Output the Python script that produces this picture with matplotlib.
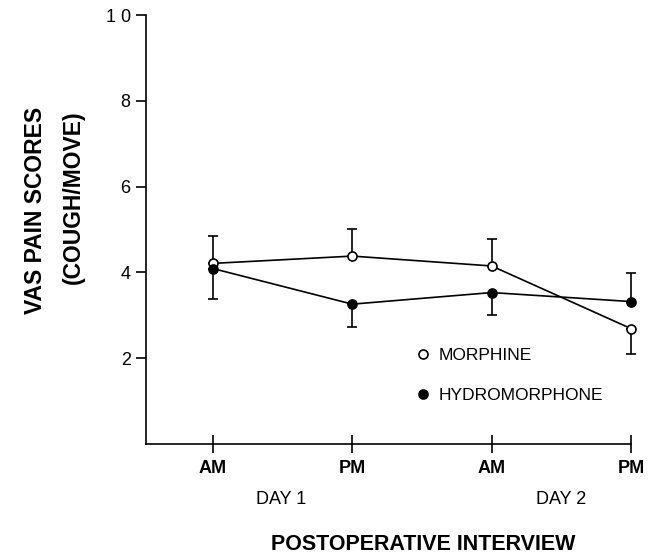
import matplotlib
matplotlib.use('Agg')
import matplotlib.pyplot as plt
from matplotlib.lines import Line2D
import numpy as np

# data
times = ['AM', 'PM', 'AM', 'PM']
days = ['DAY 1', 'DAY 2']
morphine = [4.21, 4.38, 4.15, 2.69]
morphine_err_lo = [0, 0, 0, 0.59]
morphine_err_hi = [0.63, 0.62, 0.63, 0]
hydro = [4.09, 3.26, 3.53, 3.32]
hydro_err_lo = [0.72, 0.53, 0.52, 0]
hydro_err_hi = [0, 0, 0, 0.67]
yticks = [2, 4, 6, 8, 10]

plt.rcParams['font.family'] = ['Liberation Sans', 'DejaVu Sans']

fig = plt.figure(figsize=(6.68, 5.55), dpi=100)
ax = fig.add_axes([146 / 668, 1 - 444 / 555, (631 - 146) / 668, (444 - 15) / 555])

x = np.arange(1, len(times) + 1)

style = dict(color='black', lw=1.2, elinewidth=1.2, capsize=3.5, capthick=1.2,
             marker='o', ms=6.5, mec='black', mew=1.2, zorder=3)
# morphine (open circles)
m = ax.errorbar(x, morphine, yerr=[morphine_err_lo, morphine_err_hi], mfc='white',
                label='MORPHINE', **style)
# hydromorphone (filled circles)
h = ax.errorbar(x, hydro, yerr=[hydro_err_lo, hydro_err_hi], mfc='black',
                label='HYDROMORPHONE', **style)
for cont in (m, h):
    for art in cont.get_children():
        art.set_clip_on(False)

ax.set_xlim(0.52, 4.0)
ax.set_ylim(0, 10)
ax.spines['top'].set_visible(False)
ax.spines['right'].set_visible(False)
ax.spines['left'].set_linewidth(1.2)
ax.spines['bottom'].set_linewidth(1.2)

ax.set_yticks(yticks)
ax.set_yticklabels([str(v) if v < 10 else '1 0' for v in yticks], fontsize=13)
ax.tick_params(axis='y', direction='out', length=7, width=1.2, pad=4)

ax.set_xticks(x)
ax.set_xticklabels(times, fontsize=13, fontweight='bold')
ax.tick_params(axis='x', direction='inout', length=13, width=1.2, pad=5)

# day labels under the ticks
ax.text(1.49, -1.3, days[0], ha='center', va='center', fontsize=13)
ax.text(3.5, -1.3, days[1], ha='center', va='center', fontsize=13)

fig.text(423 / 668, 1 - 545 / 555, 'POSTOPERATIVE INTERVIEW', ha='center',
         va='center', fontsize=15.5, fontweight='bold')

fig.text(36 / 668, 1 - 210 / 555, 'VAS PAIN SCORES', rotation=90, ha='center',
         va='center', fontsize=16.5, fontweight='bold')
fig.text(73 / 668, 1 - 197 / 555, '(COUGH/MOVE)', rotation=90, ha='center',
         va='center', fontsize=16.5, fontweight='bold')

h1 = Line2D([], [], marker='o', ls='none', ms=6.5, mfc='white', mec='black', mew=1.2)
h2 = Line2D([], [], marker='o', ls='none', ms=6.5, mfc='black', mec='black', mew=1.2)
ax.legend([h1, h2], ['MORPHINE', 'HYDROMORPHONE'], loc='center left',
          bbox_to_anchor=(0.557, 0.16), frameon=False, fontsize=12.5,
          handlelength=0.8, handletextpad=0.5, labelspacing=1.4, borderpad=0,
          borderaxespad=0)

fig.savefig('out.png', dpi=100)
